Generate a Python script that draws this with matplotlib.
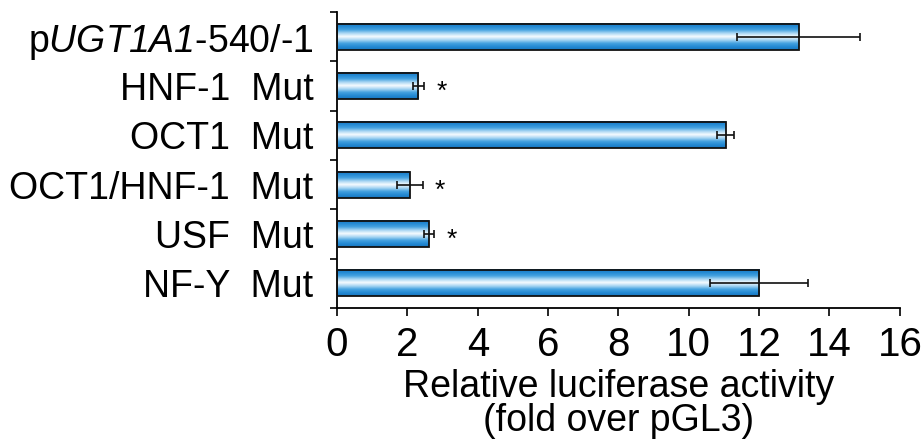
import numpy as np
import matplotlib
matplotlib.use("Agg")
import matplotlib.pyplot as plt
from matplotlib.colors import LinearSegmentedColormap

plt.rcParams['font.family'] = ['Liberation Sans', 'DejaVu Sans']
plt.rcParams['mathtext.fontset'] = 'custom'
# rm font set to italic so the digits inside UGT1A1 are slanted too
plt.rcParams['mathtext.rm'] = 'Liberation Sans:italic'
plt.rcParams['mathtext.it'] = 'Liberation Sans:italic'

labels = ['p$\\mathrm{UGT1A1}$-540/-1', 'HNF-1  Mut', 'OCT1  Mut',
          'OCT1/HNF-1  Mut', 'USF  Mut', 'NF-Y  Mut']
values = [13.12, 2.31, 11.05, 2.07, 2.61, 12.0]
errors = [1.76, 0.16, 0.24, 0.36, 0.15, 1.4]
significant = [False, True, False, True, True, False]

# blue -> white -> blue shading across each bar
shade = LinearSegmentedColormap.from_list(
    'shade', ['#1676bf', '#248ad4', '#45a2e0', '#a9d6f3', '#f6fbff',
              '#a9d6f3', '#45a2e0', '#248ad4', '#1676bf'])


def main():
    fig = plt.figure(figsize=(9.21, 4.43), dpi=100)
    ax = fig.add_axes([0.366, 0.305, 0.611, 0.668])

    n = len(labels)
    ypos = np.arange(n)
    h = 0.53
    grad = np.linspace(0, 1, 256).reshape(-1, 1)
    for y, v in zip(ypos, values):
        ax.imshow(grad, cmap=shade, aspect='auto', extent=(0, v, y + h / 2, y - h / 2),
                  zorder=2, interpolation='bilinear')
    ax.barh(ypos, values, height=h, facecolor='none', edgecolor='#111111',
            linewidth=1.3, zorder=3)
    ax.errorbar(values, ypos, xerr=errors, fmt='none', ecolor='#111111',
                elinewidth=1.2, capsize=3, capthick=1.2, zorder=4)
    for y, v, e, s in zip(ypos, values, errors, significant):
        if s:
            ax.text(v + e + 0.5, y + 0.12, '*', fontsize=19, ha='center', va='center')

    ax.set_xlim(0, 16)
    ax.set_ylim(n - 0.5, -0.5)
    ax.set_xticks(np.arange(0, 17, 2))
    ax.set_yticks(ypos)
    ax.set_yticklabels(labels)
    ax.set_yticks(np.arange(n + 1) - 0.5, minor=True)
    ax.tick_params(axis='y', which='major', length=0, pad=17, labelsize=27)
    ax.tick_params(axis='y', which='minor', length=5, width=1.2, direction='out')
    ax.tick_params(axis='x', length=6, width=1.2, direction='out', labelsize=29, pad=7)
    for side in ['top', 'right']:
        ax.spines[side].set_visible(False)
    for side in ['left', 'bottom']:
        ax.spines[side].set_linewidth(1.3)
    ax.set_xlabel('Relative luciferase activity\n(fold over pGL3)', fontsize=27,
                  linespacing=0.92, labelpad=4)

    fig.savefig('out.png', dpi=100, facecolor='white')


if __name__ == "__main__":
    main()
